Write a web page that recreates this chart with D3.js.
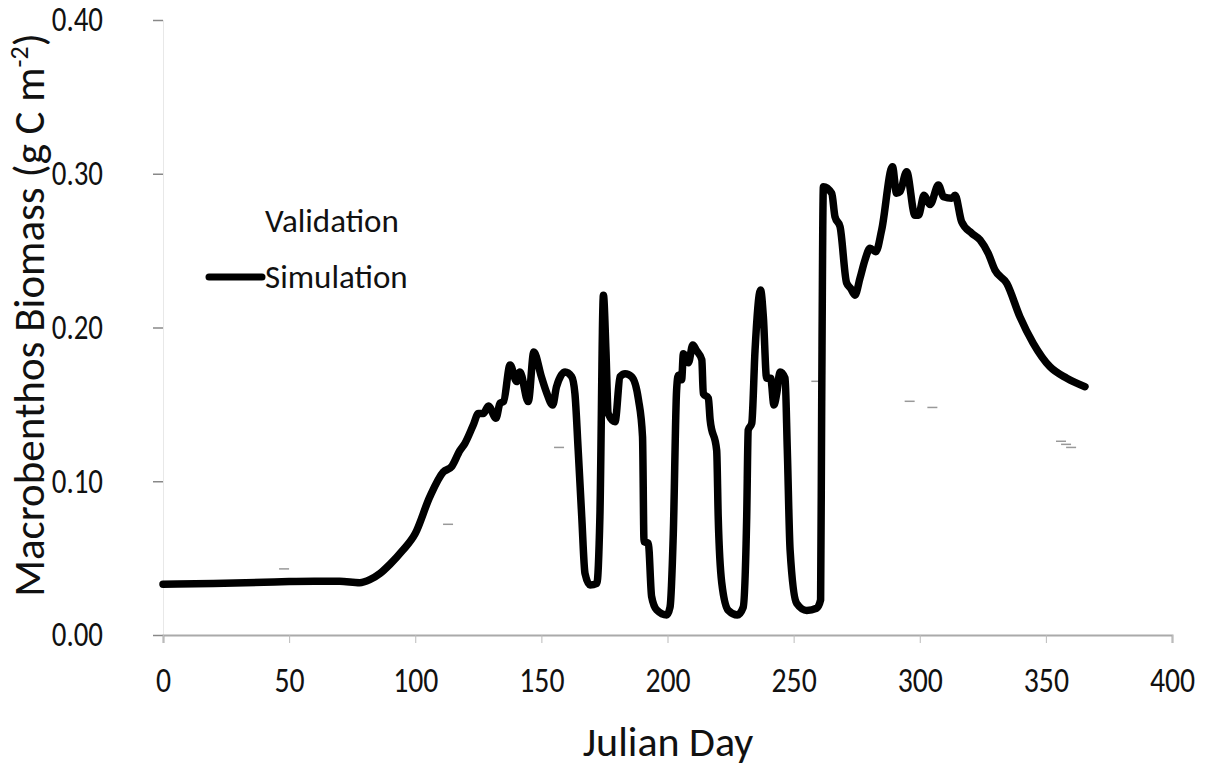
<!DOCTYPE html>
<html>
<head>
<meta charset="utf-8">
<script src="https://cdn.jsdelivr.net/npm/d3@7"></script>
<style>
  html, body { margin: 0; padding: 0; background: #fff; }
  svg { display: block; }
  text { font-family: Carlito, Calibri, Lato, "Open Sans", sans-serif; fill: #111; }
</style>
</head>
<body>
<svg id="chart" width="1213" height="768"></svg>
<script>
// Simulated macrobenthos biomass over the year (g C m^-2)
const simDays = [0, 20, 40, 50, 60, 70, 78, 82, 86, 90, 95, 100, 105.8, 111.1, 114.4, 117.7, 119.7, 123, 125, 127, 129, 132,
  133.6, 135, 137.6, 140.2, 141.5, 144.8, 147, 150, 152, 154.5, 156, 159.4, 162, 163.3, 164.6, 166, 167.3, 169.3, 172,
  173.2, 174.6, 175.6, 176.5, 179.2, 181.2, 183.2, 185.8, 188.5, 190.1, 190.7, 192.4, 193.7, 195.7, 199.7, 201, 202.3,
  203.6, 204.3, 205.6, 206.3, 208.3, 210, 211.5, 213.6, 214.2, 216.2, 216.9, 219.5, 220.1, 221.5, 224.1, 227.7, 230,
  231.4, 232, 233.4, 234.7, 236.9, 238, 239.3, 240.9, 242.2, 243.3, 244.6, 246.6, 247.5, 248.6, 251.2, 255.2, 259.1,
  260.7, 261.1, 261.8, 265.1, 266.4, 268.4, 271, 272.6, 274.3, 276.3, 278.3, 280.3, 282.6, 284.9, 289.2, 290.8, 292.2,
  294.8, 298.1, 299.5, 301.7, 304.1, 307.4, 309.4, 312.7, 314, 316.6, 320.6, 323.9, 327.2, 329.8, 334.5, 339.7, 345,
  351.6, 358.3, 365.5];
const simValues = [0.033, 0.0335, 0.0343, 0.0348, 0.035, 0.035, 0.034, 0.036, 0.040, 0.046, 0.055, 0.066, 0.090, 0.106, 0.1095, 0.120,
  0.1247, 0.1366, 0.144, 0.144, 0.149, 0.141, 0.1507, 0.1518, 0.1756, 0.1648, 0.171, 0.1518, 0.184, 0.168, 0.158,
  0.1496, 0.1615, 0.171, 0.168, 0.157, 0.120, 0.077, 0.040, 0.0325, 0.0336, 0.077, 0.221, 0.185, 0.144, 0.1387, 0.168,
  0.170, 0.168, 0.153, 0.129, 0.0607, 0.0597, 0.025, 0.0163, 0.013, 0.018, 0.066, 0.159, 0.169, 0.166, 0.183, 0.177,
  0.1886, 0.185, 0.179, 0.157, 0.154, 0.140, 0.120, 0.077, 0.034, 0.016, 0.013, 0.018, 0.077, 0.1333, 0.1377, 0.185,
  0.2244, 0.207, 0.167, 0.167, 0.1496, 0.157, 0.171, 0.167, 0.120, 0.0553, 0.0206, 0.016, 0.0174, 0.0228, 0.142,
  0.2916, 0.2873, 0.272, 0.2656, 0.229, 0.2255, 0.221, 0.232, 0.244, 0.2515, 0.2493, 0.2634, 0.3046, 0.2873, 0.2884,
  0.3013, 0.273, 0.273, 0.286, 0.280, 0.2927, 0.285, 0.284, 0.286, 0.2688, 0.2613, 0.257, 0.248, 0.2374, 0.2287,
  0.207, 0.1897, 0.1745, 0.167, 0.1615];

// Field observations used for validation
const valDays = [48, 113, 157, 259, 296, 305, 356, 358, 360];
const valValues = [0.043, 0.072, 0.122, 0.165, 0.152, 0.148, 0.126, 0.124, 0.122];

const xTicks = [0, 50, 100, 150, 200, 250, 300, 350, 400];
const yTicks = [0, 0.1, 0.2, 0.3, 0.4];
const seriesNames = ["Validation", "Simulation"];

const svg = d3.select("#chart");
const plotLeft = 163, plotTop = 20, plotWidth = 1009, plotHeight = 615;

const x = d3.scaleLinear().domain([0, 400]).range([plotLeft, plotLeft + plotWidth]);
const y = d3.scaleLinear().domain([0, 0.4]).range([plotTop + plotHeight, plotTop]);

// Narrow the tick numerals a little so they read like a condensed face
function condense(sel, factor) {
  sel.each(function () {
    const w = this.getComputedTextLength();
    d3.select(this).attr("textLength", w * factor).attr("lengthAdjust", "spacingAndGlyphs");
  });
}

// Y axis
const yAxis = svg.append("g")
  .attr("transform", `translate(${plotLeft},0)`)
  .call(d3.axisLeft(y).tickValues(yTicks).tickFormat(d3.format(".2f")).tickSize(10).tickPadding(50));
yAxis.select(".domain").attr("stroke", "#e8e8e8").attr("stroke-width", 1);
yAxis.selectAll(".tick line").attr("stroke", "#888").attr("stroke-width", 1.5);
yAxis.selectAll(".tick text").attr("font-size", 34).attr("fill", "#111")
  .attr("font-family", "Carlito, Calibri, Lato, sans-serif")
  .call(condense, 0.85);

// X axis
const xAxis = svg.append("g")
  .attr("transform", `translate(0,${plotTop + plotHeight})`)
  .call(d3.axisBottom(x).tickValues(xTicks).tickSize(8).tickPadding(24));
xAxis.select(".domain").attr("stroke", "#aaa").attr("stroke-width", 2);
xAxis.selectAll(".tick line").attr("stroke", "#bbb").attr("stroke-width", 1);
xAxis.selectAll(".tick text").attr("font-size", 35).attr("fill", "#111")
  .attr("font-family", "Carlito, Calibri, Lato, sans-serif")
  .call(condense, 0.85);

// Axis titles
svg.append("text")
  .attr("x", 668).attr("y", 756)
  .attr("text-anchor", "middle")
  .attr("font-size", 42)
  .text("Julian Day");

const yTitle = svg.append("text")
  .attr("transform", "translate(44,315) rotate(-90)")
  .attr("text-anchor", "middle")
  .attr("font-size", 43);
yTitle.append("tspan").text("Macrobenthos Biomass (g C m");
yTitle.append("tspan").attr("font-size", 26).attr("dy", -16).text("-2");
yTitle.append("tspan").attr("dy", 16).text(")");

// Validation observations: small grey dashes
svg.append("g").selectAll("line")
  .data(valDays.map((d, i) => [d, valValues[i]]))
  .join("line")
  .attr("x1", d => x(d[0]) - 5).attr("x2", d => x(d[0]) + 5)
  .attr("y1", d => y(d[1])).attr("y2", d => y(d[1]))
  .attr("stroke", "#999").attr("stroke-width", 1.5);

// Simulation line
const line = d3.line()
  .x(d => x(d[0]))
  .y(d => y(d[1]))
  .curve(d3.curveMonotoneX);

svg.append("path")
  .datum(simDays.map((d, i) => [d, simValues[i]]))
  .attr("d", line)
  .attr("fill", "none")
  .attr("stroke", "#000")
  .attr("stroke-width", 7.5)
  .attr("stroke-linejoin", "round")
  .attr("stroke-linecap", "round");

// Legend
const legend = svg.append("g");
legend.append("text").attr("x", 265).attr("y", 232).attr("font-size", 33).text(seriesNames[0]);
legend.append("line")
  .attr("x1", 209).attr("x2", 262).attr("y1", 277).attr("y2", 277)
  .attr("stroke", "#000").attr("stroke-width", 7).attr("stroke-linecap", "round");
legend.append("text").attr("x", 265).attr("y", 288).attr("font-size", 33).text(seriesNames[1]);
</script>
</body>
</html>
